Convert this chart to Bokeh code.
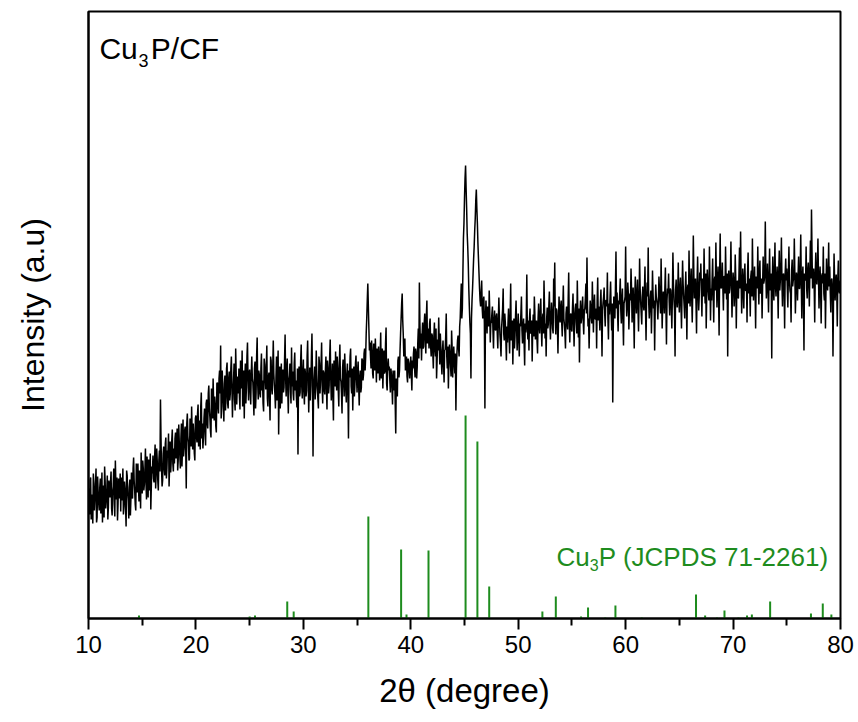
from bokeh.plotting import figure
from bokeh.models import Range1d, FixedTicker, Label
from bokeh.embed import file_html
from bokeh.resources import INLINE

# ---- measured XRD pattern, arbitrary intensity ----
# points at 10.0, 10.1, ... 80.0
intensity_a = [
    130, 104, 141, 112, 95, 135, 120, 150, 101, 126,   # 10
    108, 140, 117, 96, 133, 152, 110, 127, 99, 138,    # 11
    121, 147, 103, 132, 114, 158, 119, 98, 140, 126,   # 12
    107, 135, 150, 112, 129, 92, 143, 118, 131, 103,   # 13
    146, 120, 161, 128, 108, 141, 155, 117, 136, 166,  # 14
    125, 150, 134, 170, 119, 146, 159, 128, 109, 152,  # 15
    163, 136, 174, 145, 157, 128, 168, 219, 149, 138,  # 16
    172, 143, 181, 150, 166, 132, 177, 158, 189, 147,  # 17
    155, 186, 171, 148, 194, 163, 180, 152, 199, 170,  # 18
    192, 130, 205, 176, 160, 190, 212, 169, 184, 158,  # 19
    203, 176, 214, 188, 169, 226, 195, 181, 210, 173,  # 20
    219, 190, 233, 201, 181, 222, 240, 198, 213, 186,  # 21
    236, 205, 248, 273, 212, 229, 197, 243, 221, 256,  # 22
    210, 247, 225, 262, 201, 238, 219, 270, 214, 242,  # 23
    250, 209, 241, 268, 222, 200, 255, 231, 276, 218,  # 24
    249, 214, 262, 236, 203, 257, 226, 281, 219, 244,  # 25
    221, 265, 238, 207, 254, 229, 273, 212, 246, 198,  # 26
    258, 224, 278, 233, 210, 262, 241, 184, 252, 227,  # 27
    215, 249, 231, 284, 222, 260, 205, 243, 229, 271,  # 28
    247, 218, 266, 238, 211, 164, 252, 226, 274, 220,  # 29
    259, 214, 244, 228, 278, 206, 251, 233, 285, 162,  # 30
    241, 219, 268, 230, 210, 255, 238, 276, 215, 246,  # 31
    224, 262, 209, 249, 233, 279, 218, 255, 198, 243,  # 32
    267, 228, 251, 212, 274, 237, 205, 259, 222, 248,  # 33
    216, 255, 180, 241, 270, 225, 208, 252, 234, 263,  # 34
    226, 257, 213, 248, 231, 258, 244, 270, 262, 300,  # 35
    335, 290, 276, 250, 268, 240, 262, 280, 236, 265,  # 36
    272, 238, 286, 255, 230, 268, 247, 291, 228, 260,  # 37
    252, 226, 244, 214, 236, 248, 185, 232, 258, 241,  # 38
    268, 300, 325, 284, 270, 248, 262, 236, 256, 240,  # 39
    262, 228, 250, 272, 241, 266, 252, 290, 336, 270,  # 40
    258, 296, 272, 305, 265, 318, 290, 270, 300, 262,  # 41
    283, 250, 296, 262, 240, 279, 301, 254, 270, 244,  # 42
    278, 236, 269, 305, 250, 230, 274, 252, 288, 241,  # 43
    272, 245, 208, 266, 283, 262, 300, 335, 310, 380,  # 44
    420, 453, 410, 372, 330, 296, 240, 318, 345, 372,  # 45
    400, 429, 395, 360, 330, 312, 338, 300, 322, 210,  # 46
    318, 285, 304, 328, 276, 296, 312, 270, 308, 288,  # 47
    305, 270, 321, 284, 262, 300, 330, 278, 296, 258,  # 48
    276, 310, 265, 335, 290, 254, 300, 282, 318, 268,  # 49
    305, 262, 292, 322, 275, 300, 253, 286, 344, 279,  # 50
    268, 310, 286, 257, 304, 322, 279, 298, 265, 315,  # 51
    285, 320, 272, 305, 338, 280, 262, 311, 294, 327,  # 52
    279, 316, 290, 340, 356, 284, 308, 265, 322, 296,  # 53
    318, 282, 333, 294, 270, 312, 289, 346, 276, 305,  # 54
    287, 325, 272, 310, 296, 338, 281, 256, 318, 300,  # 55
    322, 284, 310, 335, 361, 292, 270, 318, 300, 337,  # 56
    286, 324, 299, 270, 341, 312, 288, 329, 262, 316,  # 57
    331, 292, 318, 346, 279, 304, 337, 288, 216, 322,  # 58
    300, 367, 326, 287, 314, 340, 295, 330, 273, 318,  # 59
    372, 302, 336, 289, 325, 350, 296, 331, 270, 342,  # 60
    305, 339, 287, 360, 316, 294, 332, 308, 352, 278,  # 61
    336, 371, 300, 322, 285, 348, 310, 268, 334, 318,  # 62
    299, 342, 316, 360, 290, 327, 305, 351, 274, 330,  # 63
    345, 303, 328, 290, 366, 318, 262, 339, 311, 356,  # 64
    306, 341, 290, 358, 322, 300, 347, 279, 334, 368,  # 65
    312, 350, 296, 383, 320, 340, 285, 362, 308, 346,  # 66
    355, 302, 338, 370, 315, 290, 349, 326, 372, 298,  # 67
    318, 360, 296, 342, 376, 311, 352, 283, 385, 330,  # 68
    356, 308, 342, 372, 319, 262, 348, 330, 377, 301,  # 69
    346, 312, 364, 290, 338, 320, 371, 387, 305, 350,  # 70
    310, 355, 328, 296, 366, 340, 302, 348, 380, 318,  # 71
    352, 290, 341, 372, 314, 358, 327, 300, 362, 338,  # 72
    397, 320, 355, 306, 370, 334, 260, 362, 318, 376,  # 73
    322, 352, 300, 368, 338, 381, 312, 345, 290, 360,  # 74
    350, 311, 372, 328, 296, 359, 338, 380, 305, 346,  # 75
    318, 362, 330, 384, 300, 352, 268, 341, 372, 320,  # 76
    356, 312, 378, 409, 330, 350, 296, 366, 334, 380,  # 77
    310, 352, 295, 345, 372, 318, 290, 360, 328, 376,  # 78
    352, 306, 340, 262, 365, 318, 344, 292, 358, 325,  # 79
    338,                                               # 80
]
# points at 10.05, 10.15, ... 79.95
intensity_b = [
    112, 138, 99, 124, 145, 108, 133, 96, 142, 115,    # 10
    131, 105, 146, 124, 101, 137, 118, 143, 111, 128,  # 11
    136, 110, 127, 150, 102, 133, 141, 115, 120, 145,  # 12
    141, 118, 104, 137, 112, 148, 126, 100, 139, 120,  # 13
    122, 150, 138, 114, 155, 126, 132, 148, 110, 140,  # 14
    158, 128, 147, 136, 162, 121, 140, 165, 133, 145,  # 15
    140, 160, 130, 170, 138, 158, 147, 180, 132, 165,  # 16
    150, 175, 140, 168, 185, 152, 146, 178, 155, 170,  # 17
    180, 160, 190, 158, 176, 150, 195, 170, 162, 188,  # 18
    168, 195, 182, 158, 200, 172, 185, 195, 165, 200,  # 19
    182, 205, 172, 198, 212, 180, 170, 200, 188, 215,  # 20
    195, 225, 210, 188, 230, 200, 215, 222, 192, 235,  # 21
    212, 240, 225, 200, 248, 215, 235, 208, 250, 215,  # 22
    240, 218, 250, 232, 225, 255, 208, 245, 235, 225,  # 23
    222, 258, 230, 212, 248, 240, 215, 262, 238, 245,  # 24
    228, 245, 240, 220, 250, 210, 262, 235, 248, 225,  # 25
    250, 228, 215, 260, 240, 252, 220, 242, 225, 262,  # 26
    230, 250, 245, 225, 240, 218, 268, 230, 210, 255,  # 27
    242, 226, 258, 240, 250, 228, 238, 255, 215, 232,  # 28
    225, 255, 228, 222, 250, 238, 222, 258, 232, 245,  # 29
    228, 250, 222, 262, 240, 232, 218, 262, 242, 230,  # 30
    252, 232, 245, 220, 262, 225, 255, 232, 248, 228,  # 31
    248, 230, 258, 225, 262, 240, 236, 222, 258, 232,  # 32
    240, 262, 228, 256, 240, 225, 250, 238, 265, 228,  # 33
    245, 228, 248, 262, 232, 250, 240, 222, 255, 240,  # 34
    248, 232, 240, 226, 260, 238, 265, 248, 285, 318,  # 35
    312, 268, 262, 278, 245, 275, 248, 262, 270, 245,  # 36
    258, 262, 240, 270, 252, 245, 275, 235, 252, 248,  # 37
    238, 250, 232, 248, 228, 215, 240, 222, 262, 248,  # 38
    285, 315, 298, 262, 280, 255, 242, 260, 248, 255,  # 39
    245, 258, 265, 250, 270, 240, 275, 260, 295, 285,  # 40
    282, 270, 295, 280, 302, 275, 284, 295, 272, 285,  # 41
    265, 282, 270, 290, 258, 268, 275, 285, 255, 268,  # 42
    255, 268, 282, 262, 272, 258, 265, 242, 270, 258,  # 43
    258, 265, 250, 278, 270, 292, 318, 300, 345, 395,  # 44
    440, 430, 385, 355, 312, 285, 300, 330, 360, 388,  # 45
    418, 410, 375, 345, 318, 325, 310, 318, 295, 300,  # 46
    300, 312, 292, 308, 295, 305, 288, 298, 290, 302,  # 47
    285, 298, 300, 275, 290, 310, 285, 305, 278, 292,  # 48
    295, 282, 300, 278, 298, 285, 270, 302, 290, 285,  # 49
    282, 295, 305, 288, 292, 275, 295, 300, 290, 298,  # 50
    300, 285, 298, 290, 282, 305, 292, 278, 300, 292,  # 51
    305, 292, 298, 285, 310, 295, 300, 290, 312, 298,  # 52
    298, 305, 285, 312, 300, 310, 292, 298, 305, 312,  # 53
    295, 310, 300, 285, 305, 295, 318, 298, 302, 290,  # 54
    310, 298, 300, 315, 285, 305, 310, 302, 295, 312,  # 55
    298, 308, 320, 305, 312, 300, 298, 312, 295, 310,  # 56
    312, 300, 310, 318, 298, 305, 315, 300, 308, 322,  # 57
    305, 318, 312, 300, 315, 322, 308, 315, 290, 305,  # 58
    330, 310, 305, 318, 325, 308, 320, 300, 315, 322,  # 59
    320, 312, 325, 310, 318, 330, 315, 305, 322, 318,  # 60
    325, 310, 318, 330, 305, 322, 315, 328, 310, 320,  # 61
    322, 315, 310, 328, 312, 325, 318, 310, 322, 312,  # 62
    318, 328, 305, 325, 315, 322, 330, 312, 318, 325,  # 63
    318, 330, 312, 322, 335, 308, 328, 320, 325, 318,  # 64
    330, 315, 325, 335, 312, 328, 320, 330, 315, 332,  # 65
    335, 320, 330, 342, 325, 315, 335, 328, 322, 338,  # 66
    328, 340, 322, 335, 345, 325, 335, 318, 338, 330,  # 67
    340, 325, 338, 328, 340, 335, 322, 345, 332, 338,  # 68
    330, 342, 325, 338, 345, 330, 325, 342, 335, 328,  # 69
    338, 325, 340, 332, 322, 345, 330, 338, 325, 335,  # 70
    340, 328, 335, 345, 325, 330, 342, 322, 338, 335,  # 71
    328, 342, 330, 338, 345, 325, 340, 332, 335, 345,  # 72
    345, 335, 330, 342, 328, 345, 338, 330, 348, 332,  # 73
    340, 332, 345, 328, 350, 335, 342, 330, 345, 338,  # 74
    330, 345, 338, 325, 348, 332, 340, 345, 328, 340,  # 75
    342, 330, 348, 335, 340, 322, 345, 338, 330, 348,  # 76
    335, 348, 340, 365, 338, 332, 345, 338, 350, 342,  # 77
    338, 328, 342, 335, 325, 345, 330, 338, 345, 332,  # 78
    325, 338, 330, 320, 340, 335, 328, 340, 330, 335,  # 79
]

# merge the two interleaved scans into one 0.05-degree series
two_theta, intensity = [], []
for i, v in enumerate(intensity_a):
    two_theta.append(round(10.0 + 0.1 * i, 2))
    intensity.append(v)
    if i < len(intensity_b):
        two_theta.append(round(10.05 + 0.1 * i, 2))
        intensity.append(intensity_b[i])

# ---- reference pattern Cu3P (JCPDS 71-2261) ----
ref_pos = [14.7, 25.0, 25.5, 28.5, 29.1, 36.05, 39.1, 39.6, 41.65, 45.1, 46.2, 47.3,
           52.25, 53.5, 55.85, 56.5, 58.1, 59.05, 61.5, 66.55, 67.4, 68.5, 69.2, 70.5,
           71.3, 71.75, 73.45, 77.25, 78.35, 79.15]
ref_int = [3, 2, 3, 17, 7, 102, 69, 4, 68, 203, 177, 32,
           7, 22, 2, 11, 1, 13, 1, 24, 3, 1, 8, 1,
           3, 4, 17, 5, 15, 4]

x_ticks = [10, 20, 30, 40, 50, 60, 70, 80]
x_minor = [15, 25, 35, 45, 55, 65, 75]

FONT = "Liberation Sans"
GREEN = "#1e8c1e"

p = figure(width=858, height=722, output_backend="svg", toolbar_location=None,
           x_range=Range1d(10, 80), y_range=Range1d(0, 607),
           min_border_left=88, min_border_right=18, min_border_top=11, min_border_bottom=104)
p.background_fill_color = "white"
p.border_fill_color = "white"
p.xgrid.visible = False
p.ygrid.visible = False
p.outline_line_color = "black"
p.outline_line_width = 2

# reference sticks
p.segment(x0=ref_pos, y0=[0] * len(ref_pos), x1=ref_pos, y1=ref_int,
          line_color=GREEN, line_width=2)

# measured pattern
p.line(two_theta, intensity, line_color="black", line_width=1.5)

# x axis
xa = p.xaxis[0]
xa.ticker = FixedTicker(ticks=x_ticks, minor_ticks=x_minor)
xa.axis_line_width = 2
xa.axis_line_color = "black"
xa.major_tick_in = 0
xa.major_tick_out = 11
xa.minor_tick_in = 0
xa.minor_tick_out = 7
xa.major_tick_line_width = 2
xa.minor_tick_line_width = 2
xa.major_label_text_font = FONT
xa.major_label_text_font_size = "24px"
xa.major_label_text_color = "black"
xa.major_label_standoff = 6
xa.axis_label = "2\u03b8 (degree)"
xa.axis_label_text_font = FONT
xa.axis_label_text_font_size = "33px"
xa.axis_label_text_font_style = "normal"
xa.axis_label_text_color = "black"
xa.axis_label_standoff = 16

# y axis (no ticks)
ya = p.yaxis[0]
ya.ticker = FixedTicker(ticks=[])
ya.major_label_text_font_size = "0px"
ya.axis_line_width = 2
ya.axis_line_color = "black"
ya.major_tick_out = 0
ya.minor_tick_out = 0
ya.axis_label = "Intensity (a.u)"
ya.axis_label_text_font = FONT
ya.axis_label_text_font_size = "32px"
ya.axis_label_text_font_style = "normal"
ya.axis_label_text_color = "black"
ya.axis_label_standoff = 38

def add_label(x, y, text, size, color):
    p.add_layout(Label(x=x, y=y, text=text, text_font=FONT, text_font_size=size,
                       text_color=color, text_align="left", text_baseline="alphabetic"))

# sample label  Cu3P/CF
add_label(11.02, 570, "Cu", "30px", "black")
add_label(14.66, 558, "3", "18px", "black")
add_label(15.80, 570, "P/CF", "30px", "black")

# reference label  Cu3P (JCPDS 71-2261)
add_label(53.56, 62, "Cu", "26px", GREEN)
add_label(56.66, 54, "3", "16px", GREEN)
add_label(57.50, 62, "P (JCPDS 71-2261)", "26px", GREEN)

open("out.html", "w").write(file_html(p, INLINE))
